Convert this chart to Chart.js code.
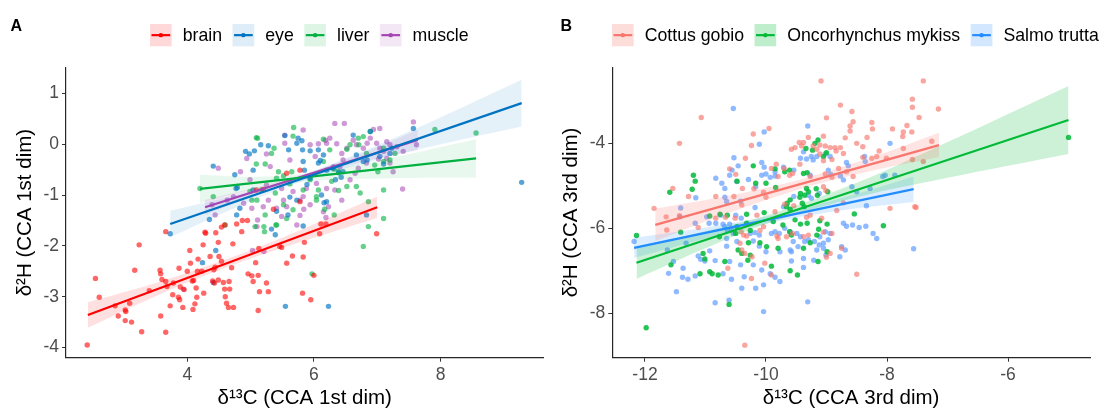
<!DOCTYPE html>
<html>
<head>
<meta charset="utf-8">
<script src="https://cdn.jsdelivr.net/npm/chart.js@4.4.1/dist/chart.umd.min.js"></script>
<style>
  html, body { margin: 0; padding: 0; background: #fff; }
  #wrap { position: relative; width: 1105px; height: 412px; }
  canvas { position: absolute; top: 0; }
  #panelA { left: 0; }
  #panelB { left: 552px; }
</style>
</head>
<body>
<div id="wrap">
  <canvas id="panelA" width="552" height="412"></canvas>
  <canvas id="panelB" width="553" height="412"></canvas>
</div>
<script>
// ---------- Panel A : tissues ----------
const tissues = ["brain", "eye", "liver", "muscle"];
const xTicksA = [4, 6, 8];
const yTicksA = [-4, -3, -2, -1, 0, 1];

const brainPoints = [[2.42,-3.95],[2.55,-2.64],[2.61,-3.01],[2.86,-3.18],[2.91,-3.38],[3.02,-3.26],[3.03,-3.29],[3.02,-3.47],[3.12,-3.50],[3.09,-3.13],[3.17,-2.48],[3.24,-1.98],[3.28,-3.69],[3.40,-2.88],[3.57,-2.48],[3.58,-2.55],[3.58,-3.38],[3.60,-2.66],[3.66,-2.70],[3.66,-3.70],[3.68,-2.80],[3.73,-3.18],[3.77,-2.96],[3.78,-2.73],[3.86,-3.01],[3.87,-2.44],[3.88,-3.06],[3.89,-2.81],[3.93,-3.21],[3.95,-2.86],[4.00,-2.50],[4.04,-2.09],[4.05,-2.34],[4.08,-2.69],[4.09,-3.25],[4.10,-2.68],[4.12,-3.14],[4.14,-2.83],[4.15,-3.01],[4.16,-2.50],[4.17,-2.26],[4.23,-2.50],[4.26,-2.93],[4.25,-1.98],[4.29,-1.75],[4.36,-2.21],[4.40,-2.69],[4.42,-2.47],[4.43,-2.73],[4.44,-2.42],[4.45,-1.74],[4.49,-1.93],[4.49,-2.67],[4.50,-2.21],[4.54,-2.30],[4.54,-1.63],[4.57,-2.72],[4.59,-2.85],[4.60,-3.00],[4.62,-3.13],[4.65,-3.21],[4.67,-2.85],[4.66,-2.70],[4.70,-2.43],[4.72,-1.96],[4.73,-3.21],[4.78,-1.57],[4.86,-1.72],[4.95,-1.50],[4.96,-2.55],[5.02,-2.59],[5.04,-2.70],[5.08,-2.33],[5.12,-3.27],[5.12,-2.58],[5.13,-2.05],[5.14,-2.90],[5.25,-2.73],[5.28,-2.90],[5.36,-1.28],[5.46,-2.01],[5.49,-2.03],[5.57,-2.34],[5.66,-2.20],[5.78,-1.13],[5.82,-2.93],[5.83,-2.22],[5.85,-1.93],[5.95,-3.06],[6.00,-2.58],[6.09,-1.76],[6.11,-1.57],[6.19,-1.57],[6.99,-1.76],[4.59,-1.59],[4.87,-1.50],[4.28,-1.73],[3.66,-1.72],[5.09,-0.90],[5.20,-0.89],[5.57,-0.57],[5.78,-0.51]];
const eyePoints = [[4.41,-0.43],[4.35,-1.48],[3.73,-1.76],[4.75,-0.60],[4.79,-0.85],[4.83,-1.26],[4.92,-0.14],[4.98,-0.19],[5.06,-0.13],[5.04,-0.51],[5.16,-0.01],[5.28,-0.03],[5.54,0.17],[5.60,-0.11],[5.73,0.02],[5.75,0.12],[5.81,0.07],[5.82,-0.11],[5.83,-0.34],[5.85,-0.51],[5.89,-0.79],[5.94,-0.67],[6.07,-0.37],[6.10,-0.32],[6.15,-0.21],[6.07,-0.11],[5.94,-0.13],[6.20,-0.51],[6.30,-0.47],[6.39,-0.56],[6.43,-0.65],[6.46,-0.54],[6.34,-0.70],[6.62,0.18],[6.67,-0.21],[6.78,-0.34],[6.84,-0.31],[6.89,0.25],[7.04,-0.24],[7.10,-0.39],[7.20,-0.18],[7.23,-0.08],[7.57,0.31],[9.28,-0.75],[5.33,-1.67],[5.41,-1.32],[5.73,-1.10],[5.62,-1.04],[6.12,-1.00],[4.78,-1.39],[4.77,-0.87],[5.04,-0.90],[5.83,-1.61],[6.83,-1.39],[6.20,-1.13],[4.45,-2.09],[4.24,-2.33],[4.41,-2.72],[5.55,-3.19],[6.23,-3.19],[5.39,-1.78],[5.59,-1.39],[6.16,-1.15]];
const liverPoints = [[4.20,-0.87],[4.41,-1.03],[4.60,-1.59],[5.09,0.13],[5.11,0.12],[5.09,-0.39],[5.23,-0.39],[5.33,-0.18],[5.37,-0.08],[5.44,-0.54],[5.67,0.16],[5.68,0.33],[5.65,-0.54],[5.52,-0.62],[5.41,-0.67],[5.62,-0.78],[5.83,-0.90],[5.94,-0.70],[6.04,-1.10],[6.07,-0.90],[6.15,-0.34],[6.15,0.10],[6.25,-0.11],[6.32,-0.49],[6.39,-0.54],[6.52,-0.10],[6.57,-0.01],[6.70,0.12],[6.71,-0.01],[6.78,0.15],[6.89,0.25],[6.83,-0.18],[6.96,-0.41],[7.01,-0.54],[7.10,-0.08],[7.10,-0.34],[7.20,-0.31],[7.28,-0.18],[7.10,-0.90],[6.86,-1.13],[6.73,-0.96],[6.67,-0.83],[7.10,-1.46],[6.86,-1.62],[6.78,-2.01],[7.91,0.29],[8.56,0.22],[4.99,-0.93],[5.02,-1.10],[5.10,-1.10],[5.23,-1.39],[5.41,-1.59],[5.52,-1.19],[5.57,-1.46],[5.67,-1.29],[6.04,-1.03],[6.17,-1.28],[6.28,-0.73],[6.39,-0.91],[6.52,-0.83],[5.39,-0.96],[5.17,-0.90],[5.07,-1.62],[5.21,-1.62],[5.97,-2.55],[5.22,-1.72],[5.40,-1.59],[6.32,-1.39]];
const musclePoints = [[4.49,-0.47],[4.39,-1.19],[4.44,-1.39],[4.63,-1.10],[4.73,-1.03],[4.94,-0.28],[5.25,-0.19],[5.31,-0.44],[5.54,0.18],[5.54,0.02],[5.62,-0.31],[5.83,0.28],[5.94,-0.01],[6.02,-0.24],[6.07,0.01],[6.18,0.08],[6.20,0.02],[6.25,0.12],[6.33,0.41],[6.48,0.41],[6.36,0.01],[6.44,-0.18],[6.52,-0.08],[6.62,0.08],[6.67,-0.01],[6.84,0.02],[6.89,0.12],[6.94,0.29],[7.04,0.31],[6.99,0.02],[7.04,-0.08],[7.10,-0.14],[7.15,0.05],[7.20,-0.01],[7.31,-0.05],[7.41,-0.14],[7.57,0.44],[7.62,-0.01],[7.40,-0.88],[6.83,-0.37],[6.70,-0.47],[6.65,-0.57],[6.46,-0.31],[6.41,-0.45],[6.33,-0.90],[6.20,-0.87],[6.04,-0.77],[5.88,-0.87],[5.83,-1.03],[5.78,-1.10],[5.67,-0.93],[5.49,-0.87],[5.52,-1.10],[5.49,-1.42],[5.28,-1.10],[5.20,-1.23],[5.11,-1.49],[5.10,-1.62],[5.02,-1.26],[4.89,-1.16],[6.31,-0.44],[6.57,-0.70],[6.44,-1.10],[6.23,-1.23],[5.94,-1.19],[5.73,-1.59],[5.57,-1.23],[5.41,-1.26],[5.25,-0.80],[4.99,-0.70],[4.84,-0.54],[6.78,-0.08],[7.02,-0.29],[7.15,-0.28],[7.20,-0.37],[7.25,-0.54],[5.03,-2.09],[5.21,-2.11],[5.78,-1.40],[5.84,-1.28],[6.15,-1.33],[6.19,-1.44],[3.94,-2.85]];

// fitted lines (end points) and confidence ribbons
const brainFit = [[2.43,-3.36],[7.0,-1.24]];
const brainBandX = [2.43, 3.5, 4.6, 5.8, 7.0];
const brainBandUpper = [-3.11, -2.73, -2.27, -1.68, -1.03];
const brainBandLower = [-3.61, -2.99, -2.43, -1.92, -1.45];
const eyeFit = [[3.73,-1.57],[9.28,0.81]];
const eyeBandX = [3.73, 4.8, 5.8, 7.5, 9.28];
const eyeBandUpper = [-1.31, -0.99, -0.62, 0.25, 1.27];
const eyeBandLower = [-1.83, -1.23, -0.74, -0.15, 0.35];
const liverFit = [[4.2,-0.88],[8.56,-0.28]];
const liverBandX = [4.2, 5.0, 5.9, 7.2, 8.56];
const liverBandUpper = [-0.60, -0.64, -0.57, -0.27, 0.10];
const liverBandLower = [-1.16, -0.90, -0.73, -0.67, -0.66];
const muscleFit = [[4.28,-1.24],[7.64,0.085]];
const muscleBandX = [4.28, 5.2, 6.0, 6.8, 7.64];
const muscleBandUpper = [-1.09, -0.81, -0.52, -0.16, 0.285];
const muscleBandLower = [-1.39, -0.95, -0.61, -0.34, -0.115];

// ---------- Panel B : species ----------
const species = ["Cottus gobio", "Oncorhynchus mykiss", "Salmo trutta"];
const xTicksB = [-12, -10, -8, -6];
const yTicksB = [-8, -6, -4];

const cottusPoints = [[-9.09,-2.53],[-7.40,-2.53],[-11.07,-3.39],[-11.43,-4.00],[-8.77,-3.10],[-8.58,-3.25],[-7.58,-2.96],[-7.58,-3.15],[-7.47,-3.39],[-7.15,-3.19],[-9.00,-3.40],[-8.56,-3.49],[-8.61,-3.59],[-8.25,-3.51],[-8.24,-3.66],[-8.61,-3.71],[-7.91,-3.66],[-7.73,-3.73],[-7.67,-3.58],[-7.59,-3.73],[-10.21,-3.78],[-9.95,-3.65],[-10.24,-4.05],[-9.05,-3.83],[-9.30,-3.86],[-8.69,-3.87],[-8.33,-3.86],[-8.50,-4.00],[-8.40,-4.08],[-8.13,-4.18],[-7.74,-3.84],[-7.73,-4.12],[-7.26,-3.95],[-9.52,-4.10],[-9.58,-4.14],[-9.41,-4.06],[-9.38,-3.98],[-9.45,-3.98],[-9.22,-4.06],[-9.11,-4.04],[-9.02,-4.06],[-8.94,-4.10],[-8.86,-4.10],[-8.84,-4.18],[-8.77,-4.10],[-8.72,-4.24],[-8.40,-4.33],[-8.25,-4.35],[-8.17,-4.31],[-8.01,-4.35],[-8.91,-4.38],[-9.05,-4.41],[-9.11,-4.25],[-9.16,-4.14],[-10.34,-4.35],[-10.60,-4.60],[-10.50,-4.73],[-10.39,-5.06],[-10.20,-5.07],[-9.91,-4.59],[-9.83,-4.49],[-9.80,-4.78],[-9.70,-4.59],[-9.61,-4.75],[-9.56,-4.71],[-9.44,-4.49],[-9.27,-4.78],[-9.02,-4.72],[-8.91,-4.80],[-8.67,-4.67],[-8.80,-4.59],[-8.56,-4.78],[-7.58,-4.38],[-7.40,-4.43],[-10.83,-5.25],[-11.28,-5.25],[-11.54,-5.06],[-10.53,-5.25],[-10.04,-5.15],[-10.00,-5.27],[-9.05,-5.02],[-9.01,-5.11],[-7.54,-5.49],[-11.85,-5.53],[-10.40,-5.45],[-11.65,-5.73],[-11.43,-5.70],[-11.64,-6.04],[-11.12,-5.98],[-10.83,-5.76],[-10.67,-5.74],[-10.51,-5.76],[-10.41,-6.08],[-10.37,-6.16],[-10.15,-5.69],[-9.85,-5.61],[-9.69,-5.43],[-9.54,-5.47],[-9.33,-5.74],[-9.27,-5.69],[-9.08,-5.76],[-8.83,-5.58],[-8.72,-5.40],[-7.95,-5.53],[-7.52,-5.51],[-10.10,-6.05],[-10.04,-5.96],[-10.32,-6.18],[-9.82,-6.18],[-10.43,-6.35],[-10.40,-6.51],[-10.35,-6.59],[-10.23,-6.67],[-10.63,-6.94],[-10.02,-6.82],[-9.91,-7.10],[-10.24,-7.18],[-9.80,-6.24],[-9.38,-6.20],[-9.05,-6.09],[-8.91,-6.12],[-8.75,-6.47],[-8.94,-6.59],[-9.00,-6.68],[-9.30,-6.16],[-8.50,-7.08],[-9.56,-6.12],[-9.66,-6.20],[-10.35,-8.75]];
const oncoPoints = [[-9.14,-3.92],[-9.19,-4.00],[-9.34,-4.12],[-9.23,-4.16],[-9.00,-4.22],[-9.05,-4.31],[-10.21,-4.53],[-11.20,-4.75],[-11.17,-4.89],[-11.22,-5.08],[-11.59,-5.15],[-10.48,-4.89],[-10.17,-4.94],[-10.00,-4.94],[-9.85,-4.60],[-9.69,-4.67],[-9.61,-4.63],[-9.38,-4.71],[-9.32,-4.69],[-9.84,-5.04],[-9.33,-5.06],[-9.17,-5.07],[-9.15,-5.22],[-9.30,-5.14],[-9.36,-5.22],[-9.43,-5.18],[-9.44,-5.27],[-9.40,-5.41],[-9.37,-5.49],[-9.65,-5.41],[-9.66,-5.49],[-8.98,-5.14],[-9.60,-5.33],[-12.14,-6.17],[-11.41,-6.09],[-11.57,-6.86],[-11.04,-6.59],[-11.01,-6.72],[-11.09,-7.07],[-10.93,-7.02],[-10.89,-7.07],[-10.79,-7.10],[-10.68,-6.78],[-10.93,-5.71],[-10.76,-5.67],[-10.64,-5.69],[-10.32,-5.88],[-10.26,-6.05],[-10.48,-5.96],[-10.50,-6.12],[-10.46,-6.51],[-10.40,-6.59],[-10.26,-6.63],[-10.30,-6.75],[-10.32,-5.67],[-10.03,-5.63],[-9.88,-5.84],[-9.72,-5.92],[-9.60,-5.55],[-9.52,-5.80],[-9.43,-5.90],[-9.32,-5.88],[-9.13,-6.02],[-9.11,-5.82],[-8.99,-5.90],[-8.54,-5.66],[-8.06,-5.94],[-10.29,-6.34],[-10.10,-6.34],[-9.99,-6.43],[-9.91,-6.89],[-9.61,-6.08],[-9.58,-6.16],[-9.38,-6.47],[-9.27,-6.34],[-9.16,-6.16],[-8.99,-6.55],[-9.14,-6.78],[-9.60,-7.00],[-9.48,-7.10],[-10.61,-7.79],[-11.98,-8.34],[-10.77,-6.20],[-9.80,-6.47],[-5.00,-3.86]];
const salmoPoints = [[-10.54,-3.18],[-10.03,-3.73],[-10.11,-4.02],[-9.31,-3.59],[-10.53,-4.34],[-10.46,-4.53],[-10.56,-4.63],[-10.83,-4.82],[-10.73,-4.94],[-10.68,-5.06],[-10.60,-4.75],[-10.48,-4.90],[-10.29,-4.85],[-10.17,-5.02],[-10.07,-4.45],[-10.03,-4.56],[-10.07,-4.75],[-10.00,-4.72],[-9.93,-4.80],[-9.85,-4.77],[-9.85,-4.67],[-9.71,-4.56],[-9.54,-4.63],[-9.43,-4.35],[-9.33,-4.37],[-9.25,-4.31],[-9.38,-4.20],[-9.16,-4.31],[-9.22,-4.39],[-9.02,-4.25],[-8.94,-4.31],[-8.67,-4.45],[-8.64,-4.53],[-8.37,-4.31],[-8.36,-4.43],[-7.95,-4.00],[-8.97,-4.63],[-8.93,-4.73],[-9.27,-4.75],[-8.77,-4.77],[-8.72,-4.86],[-8.58,-5.02],[-8.50,-5.14],[-8.07,-4.78],[-8.03,-4.75],[-7.87,-4.75],[-8.28,-5.06],[-11.16,-5.28],[-10.68,-5.27],[-10.65,-5.37],[-10.42,-5.36],[-10.18,-5.51],[-9.71,-5.49],[-9.30,-5.22],[-9.25,-5.29],[-9.12,-5.18],[-9.54,-5.25],[-8.34,-5.47],[-11.41,-5.52],[-12.18,-6.31],[-11.42,-5.73],[-11.17,-5.88],[-10.98,-5.73],[-10.94,-5.88],[-10.83,-5.88],[-10.71,-5.90],[-10.60,-5.90],[-10.50,-5.69],[-10.41,-5.76],[-10.75,-5.69],[-10.68,-5.96],[-10.64,-6.04],[-10.57,-6.04],[-10.54,-6.12],[-10.65,-6.24],[-10.48,-6.31],[-10.21,-6.30],[-10.26,-6.12],[-10.18,-6.10],[-10.11,-6.42],[-10.00,-6.55],[-10.11,-6.16],[-9.91,-6.12],[-9.85,-6.08],[-9.78,-6.12],[-9.69,-6.00],[-9.60,-6.08],[-9.49,-6.12],[-9.43,-6.20],[-9.36,-6.31],[-9.30,-6.27],[-9.55,-6.31],[-9.60,-6.51],[-9.47,-6.43],[-9.58,-6.55],[-9.20,-6.31],[-9.11,-6.20],[-9.05,-6.35],[-8.97,-6.27],[-8.94,-6.12],[-9.02,-6.08],[-8.72,-5.88],[-8.67,-5.95],[-8.57,-5.92],[-8.46,-5.98],[-8.35,-5.95],[-8.23,-6.12],[-8.17,-6.24],[-8.69,-6.51],[-8.75,-6.43],[-9.05,-6.47],[-9.12,-6.39],[-9.16,-6.51],[-11.53,-6.78],[-11.61,-7.06],[-11.37,-6.94],[-11.38,-7.15],[-11.29,-7.20],[-11.17,-7.12],[-11.08,-6.73],[-11.01,-6.77],[-10.84,-6.76],[-10.71,-7.07],[-10.60,-6.78],[-10.57,-7.20],[-10.42,-6.86],[-10.36,-7.14],[-10.21,-6.86],[-10.17,-7.41],[-10.07,-6.98],[-10.04,-7.33],[-9.93,-7.07],[-9.85,-7.15],[-9.77,-7.25],[-9.58,-6.77],[-9.38,-6.71],[-9.38,-6.92],[-9.21,-6.75],[-9.01,-6.63],[-8.78,-6.67],[-10.04,-7.96],[-9.77,-6.55],[-9.31,-7.73],[-10.61,-7.69],[-10.84,-7.75],[-11.48,-7.49],[-10.40,-7.41],[-11.12,-6.65],[-11.63,-6.51],[-11.32,-6.35],[-10.93,-6.53],[-10.65,-6.42],[-7.56,-6.48]];

const cottusFit = [[-11.83,-5.92],[-7.14,-4.04]];
const cottusBandX = [-11.83, -10.6, -9.4, -8.2, -7.14];
const cottusBandUpper = [-5.54, -5.23, -4.84, -4.30, -3.75];
const cottusBandLower = [-6.30, -5.63, -5.06, -4.63, -4.33];
const oncoFit = [[-12.14,-6.81],[-5.0,-3.45]];
const oncoBandX = [-12.14, -11.0, -10.0, -8.5, -7.0, -5.0];
const oncoBandUpper = [-6.43, -6.07, -5.70, -4.93, -3.97, -2.65];
const oncoBandLower = [-7.19, -6.47, -5.90, -5.27, -4.81, -4.25];
const salmoFit = [[-12.18,-6.46],[-7.56,-5.08]];
const salmoBandX = [-12.18, -11.0, -9.9, -8.7, -7.56];
const salmoBandUpper = [-6.22, -5.98, -5.70, -5.27, -4.78];
const salmoBandLower = [-6.70, -6.24, -5.86, -5.57, -5.38];

// ---------- helpers ----------
const FONT = '"Liberation Sans", Arial, sans-serif';
Chart.defaults.font.family = FONT;

const rgba = (c, a) => `rgba(${c[0]},${c[1]},${c[2]},${a})`;
const xy = arr => arr.map(p => ({x: p[0], y: p[1]}));
const zipXY = (xs, ys) => xs.map((x, i) => ({x: x, y: ys[i]}));

function buildDatasets(groups) {
  const lines = [], bands = [], points = [];
  groups.forEach(g => {
    lines.push({type: 'line', label: g.label, data: xy(g.fit), borderColor: rgba(g.color, 1),
      borderWidth: 2.3, pointRadius: 0, fill: false});
    bands.push({type: 'line', data: zipXY(g.bandX, g.upper), borderWidth: 0, pointRadius: 0,
      tension: 0.35, fill: '+1', backgroundColor: rgba(g.color, g.bandAlpha)});
    bands.push({type: 'line', data: zipXY(g.bandX, g.lower), borderWidth: 0, pointRadius: 0,
      tension: 0.35, fill: false});
    points.push({type: 'scatter', data: xy(g.points), pointRadius: 2.7, pointBorderWidth: 0,
      backgroundColor: rgba(g.pointColor || g.color, g.pointAlpha)});
  });
  // first dataset is painted last: lines on top, then ribbons, then points
  return lines.concat(bands, points);
}

const panelDecor = {
  id: 'panelDecor',
  afterDraw(chart, args, o) {
    const ctx = chart.ctx;
    ctx.save();
    ctx.fillStyle = '#000';
    ctx.font = 'bold 16px ' + FONT;
    ctx.textBaseline = 'alphabetic';
    ctx.fillText(o.tag, o.tagX, 31);
    ctx.font = '17.7px ' + FONT;
    ctx.textBaseline = 'middle';
    const top = 24, w = 21.7, h = 22.3, cy = top + h / 2;
    let x = o.legendX;
    o.items.forEach(it => {
      ctx.fillStyle = rgba(it.color, it.keyAlpha);
      ctx.fillRect(x, top, w, h);
      ctx.strokeStyle = rgba(it.color, 1);
      ctx.lineWidth = 2.2;
      ctx.beginPath(); ctx.moveTo(x + 1.5, cy); ctx.lineTo(x + w - 1.5, cy); ctx.stroke();
      ctx.fillStyle = rgba(it.color, 1);
      ctx.beginPath(); ctx.arc(x + w / 2, cy, 2.2, 0, Math.PI * 2); ctx.fill();
      ctx.fillStyle = '#000';
      ctx.fillText(it.label, x + w + 11, cy + 0.5);
      x += w + 11 + ctx.measureText(it.label).width + o.gap;
    });
    ctx.restore();
  }
};

function axisOpts(range, ticks, title, isY, fitSize, titlePad) {
  return {
    type: 'linear', min: range[0], max: range[1],
    afterBuildTicks: s => { s.ticks = ticks.map(v => ({value: v})); },
    afterFit: s => { if (isY) s.width = fitSize; else s.height = fitSize; },
    border: {display: true, color: '#262626', width: 1.2},
    grid: {display: true, drawOnChartArea: false, drawTicks: true, tickLength: 4,
      tickColor: '#333', tickWidth: 1},
    ticks: {color: '#4d4d4d', font: {size: 17.5}, padding: 3, autoSkip: false,
      maxRotation: 0, callback: v => String(v)},
    title: {display: true, text: title, color: '#000', font: {size: 20.5},
      padding: isY ? {top: titlePad, bottom: 0} : {top: 0, bottom: titlePad}}
  };
}

function makeChart(id, groups, cfg) {
  return new Chart(document.getElementById(id), {
    type: 'scatter',
    data: {datasets: buildDatasets(groups)},
    options: {
      responsive: false, animation: false, events: [], devicePixelRatio: 1,
      layout: {padding: {top: cfg.padTop, right: cfg.padRight, left: 0, bottom: 0}},
      scales: {
        x: axisOpts(cfg.xRange, cfg.xTicks, cfg.xTitle, false, cfg.xHeight, 1),
        y: axisOpts(cfg.yRange, cfg.yTicks, cfg.yTitle, true, cfg.yWidth, cfg.yTitlePad)
      },
      plugins: {
        legend: {display: false}, tooltip: {enabled: false},
        panelDecor: {tag: cfg.tag, tagX: cfg.tagX, legendX: cfg.legendX, gap: 10.5,
          items: groups.map(g => ({label: g.label, color: g.color, keyAlpha: g.keyAlpha}))}
      }
    },
    plugins: [panelDecor]
  });
}

// ---------- panel A ----------
const groupsA = [
  {label: tissues[0], color: [255, 0, 0], points: brainPoints, fit: brainFit,
   bandX: brainBandX, upper: brainBandUpper, lower: brainBandLower, bandAlpha: 0.12, pointAlpha: 0.6, keyAlpha: 0.15},
  {label: tissues[1], color: [0, 115, 194], points: eyePoints, fit: eyeFit,
   bandX: eyeBandX, upper: eyeBandUpper, lower: eyeBandLower, bandAlpha: 0.1, pointAlpha: 0.65, keyAlpha: 0.13},
  {label: tissues[2], color: [0, 176, 64], points: liverPoints, fit: liverFit,
   bandX: liverBandX, upper: liverBandUpper, lower: liverBandLower, bandAlpha: 0.09, pointAlpha: 0.6, keyAlpha: 0.13},
  {label: tissues[3], color: [165, 70, 180], points: musclePoints, fit: muscleFit,
   bandX: muscleBandX, upper: muscleBandUpper, lower: muscleBandLower, bandAlpha: 0.12, pointAlpha: 0.55, keyAlpha: 0.13}
];
makeChart('panelA', groupsA, {
  tag: 'A', tagX: 10.5, legendX: 150,
  padTop: 67.5, padRight: 8.5, yWidth: 66, xHeight: 54.3, yTitlePad: 13,
  xRange: [2.085, 9.625], yRange: [-4.2, 1.51], xTicks: xTicksA, yTicks: yTicksA,
  xTitle: 'δ¹³C (CCA 1st dim)', yTitle: 'δ²H (CCA 1st dim)'
});

// ---------- panel B ----------
const groupsB = [
  {label: species[0], color: [248, 118, 109], points: cottusPoints, fit: cottusFit,
   bandX: cottusBandX, upper: cottusBandUpper, lower: cottusBandLower, bandAlpha: 0.2, pointAlpha: 0.65, keyAlpha: 0.25},
  {label: species[1], color: [0, 186, 56], points: oncoPoints, fit: oncoFit,
   bandX: oncoBandX, upper: oncoBandUpper, lower: oncoBandLower, bandAlpha: 0.2, pointAlpha: 0.85, keyAlpha: 0.25},
  {label: species[2], color: [35, 140, 255], pointColor: [97, 156, 255], points: salmoPoints, fit: salmoFit,
   bandX: salmoBandX, upper: salmoBandUpper, lower: salmoBandLower, bandAlpha: 0.16, pointAlpha: 0.7, keyAlpha: 0.2}
];
makeChart('panelB', groupsB, {
  tag: 'B', tagX: 8.6, legendX: 60,
  padTop: 67.3, padRight: 15, yWidth: 60.3, xHeight: 54.3, yTitlePad: 7,
  xRange: [-12.54, -4.645], yRange: [-9.045, -2.21], xTicks: xTicksB, yTicks: yTicksB,
  xTitle: 'δ¹³C (CCA 3rd dim)', yTitle: 'δ²H (CCA 3rd dim)'
});
</script>
</body>
</html>
